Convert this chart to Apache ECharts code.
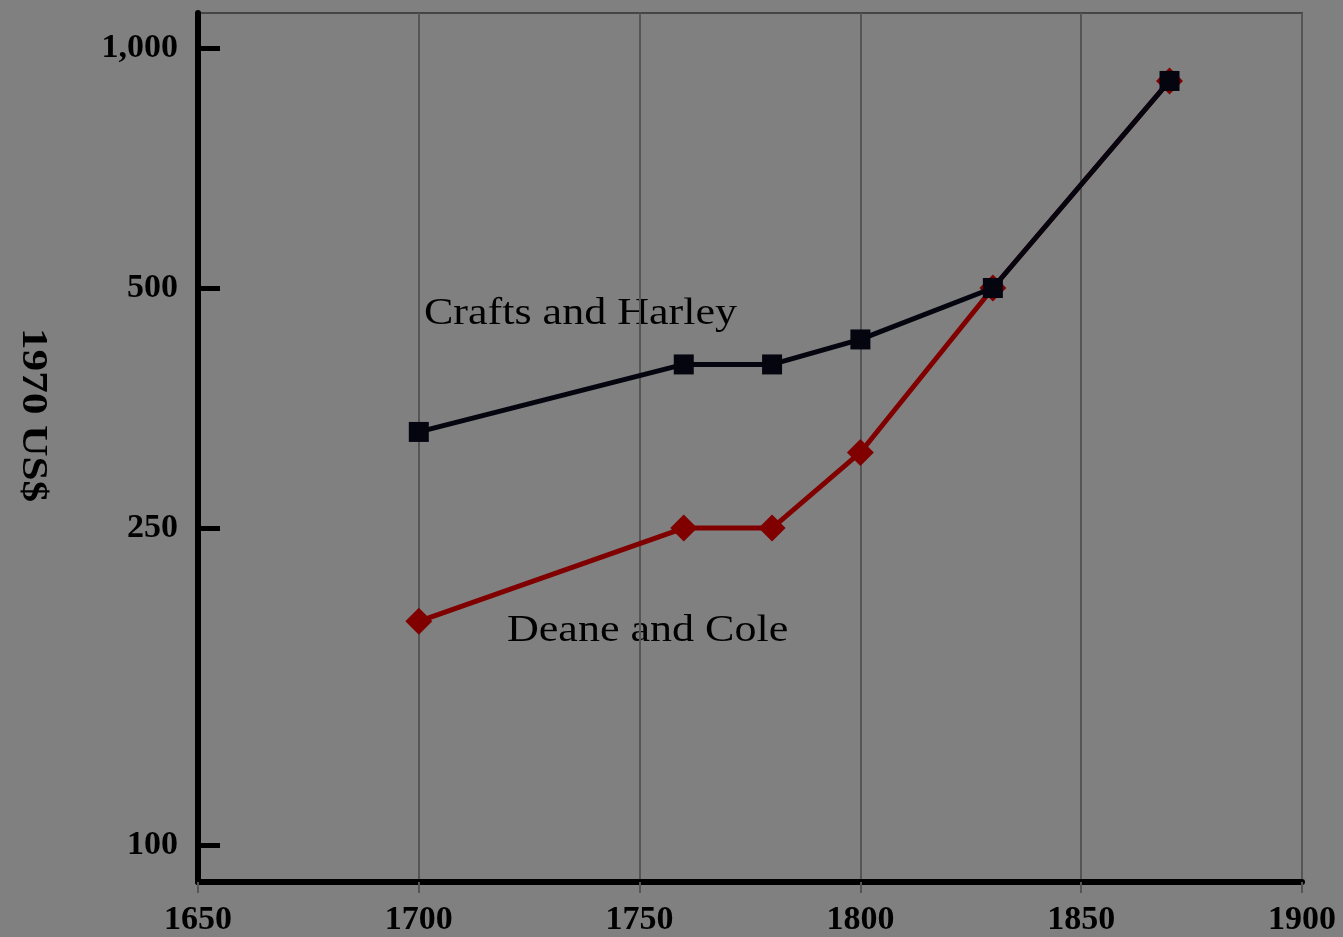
<!DOCTYPE html>
<html>
<head>
<meta charset="utf-8">
<title>1970 US$ per capita income estimates</title>
<script src="https://cdn.jsdelivr.net/npm/echarts@6/dist/echarts.min.js"></script>
<style>
  html, body { margin: 0; padding: 0; background: #808080; }
  #chart { width: 1343px; height: 937px; }
</style>
</head>
<body>
<div id="chart"></div>
<script>
// Benchmark years and per-capita income (1970 US$)
const years = [1700, 1760, 1780, 1800, 1830, 1870];
const craftsHarley = [330, 401, 401, 431, 500, 909];
const deaneCole = [191, 250, 250, 311, 500, 909];

// Axis ticks
const xTicks = [1650, 1700, 1750, 1800, 1850, 1900];
const yTicks = [100, 250, 500, 1000];

const serif = '"Liberation Serif", "Times New Roman", serif';

const chart = echarts.init(document.getElementById('chart'), null, { renderer: 'canvas' });

function pairs(xs, ys) {
  return xs.map((x, i) => [x, ys[i]]);
}

chart.setOption({
  backgroundColor: '#808080',
  animation: false,
  grid: {
    left: 198, right: 41, top: 13, bottom: 55,
    show: true, borderColor: '#454545', borderWidth: 2, backgroundColor: 'transparent'
  },
  xAxis: {
    type: 'value',
    min: xTicks[0],
    max: xTicks[xTicks.length - 1],
    interval: 50,
    axisLine: { show: true, onZero: false, lineStyle: { color: '#000', width: 6 } },
    axisTick: { show: true, length: 11, lineStyle: { color: '#555', width: 2 } },
    splitLine: { show: true, lineStyle: { color: '#555', width: 2 } },
    axisLabel: {
      color: '#000', fontFamily: serif, fontWeight: 'bold', fontSize: 34, margin: 21,
      formatter: v => String(v)
    }
  },
  yAxis: {
    type: 'log',
    logBase: 10,
    min: 90,
    max: 1106,
    axisLine: { show: true, lineStyle: { color: '#000', width: 6 } },
    axisTick: {
      show: true, inside: true, length: 22, customValues: yTicks,
      lineStyle: { color: '#000', width: 5 }
    },
    splitLine: { show: false },
    minorTick: { show: false },
    axisLabel: {
      customValues: yTicks,
      color: '#000', fontFamily: serif, fontWeight: 'bold', fontSize: 34, margin: 20,
      formatter: v => Number(v).toLocaleString('en-US')
    }
  },
  series: [
    {
      name: 'Deane and Cole',
      type: 'line',
      data: pairs(years, deaneCole),
      symbol: 'diamond',
      symbolSize: 27,
      itemStyle: { color: '#800000' },
      lineStyle: { color: '#800000', width: 5 },
      z: 2
    },
    {
      name: 'Crafts and Harley',
      type: 'line',
      data: pairs(years, craftsHarley),
      symbol: 'rect',
      symbolSize: 20,
      itemStyle: { color: '#05050f' },
      lineStyle: { color: '#05050f', width: 5 },
      z: 3
    }
  ],
  graphic: [
    {
      type: 'text', x: 32, y: 415, rotation: -Math.PI / 2, scaleX: 1.2,
      style: {
        text: '1970 US$', fill: '#000', font: 'bold 36px ' + serif,
        align: 'center', verticalAlign: 'middle'
      }
    },
    {
      type: 'text', x: 424, y: 314, scaleX: 1.19,
      style: {
        text: 'Crafts and Harley', fill: '#000', font: '37px ' + serif,
        align: 'left', verticalAlign: 'middle'
      }
    },
    {
      type: 'text', x: 507, y: 631, scaleX: 1.19,
      style: {
        text: 'Deane and Cole', fill: '#000', font: '37px ' + serif,
        align: 'left', verticalAlign: 'middle'
      }
    }
  ]
});
</script>
</body>
</html>
